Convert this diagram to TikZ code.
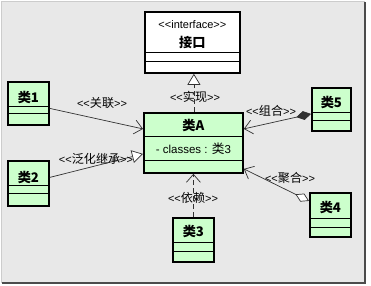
\documentclass[tikz,border=0pt]{standalone}
\usepackage{fontspec}
\setmainfont{Liberation Sans}
\newfontfamily\cjk[Scale=1.1]{Noto Sans CJK SC}
\usetikzlibrary{arrows.meta,calc}
\newcommand\stL{<\kern0pt<}
\newcommand\stR{>\kern0pt>}
\definecolor{clsgreen}{RGB}{204,255,204}
\definecolor{bggray}{RGB}{232,232,232}
\definecolor{linegray}{RGB}{50,50,50}
\begin{document}
\begin{tikzpicture}[x=1pt,y=-1pt,
  cls/.style={draw=black, line width=1.8pt, fill=clsgreen, inner sep=0pt, anchor=north west},
  div/.style={draw=black, line width=0.8pt},
  conn/.style={draw=linegray, line width=0.7pt},
  dsh/.style={dash pattern=on 5pt off 3pt},
  lbl/.style={font=\fontsize{11}{12}\selectfont, inner sep=0pt, text=black},
  ttl/.style={font=\fontsize{12}{13}\selectfont\bfseries, inner sep=0pt},
  barb/.tip={Straight Barb[length=8pt,width=14pt,line width=0.7pt]},
  tri/.tip={Triangle[open,fill=white,length=11pt,width=13pt,line width=0.7pt]},
  dia/.tip={Diamond[length=15pt,width=9pt,line width=0.7pt]},
  odia/.tip={Diamond[open,fill=white,length=15pt,width=9pt,line width=0.7pt]}]
\useasboundingbox (0,0) rectangle (371,285);
\fill[white] (0,0) rectangle (371,285);
\fill[bggray] (1,1) rectangle (365,283);
\draw[gray!40, line width=0.6pt] (1,283) -- (1,1) -- (365,1);
\draw[black!70, line width=2pt] (365,2) -- (365,283) -- (2,283);

% interface
\node[cls, fill=white, minimum width=95pt, minimum height=61pt] (I) at (144,11) {};
\draw[div] ($(I.north west)+(0,41)$) -- ($(I.north east)+(0,41)$);
\draw[div] ($(I.north west)+(0,50)$) -- ($(I.north east)+(0,50)$);
\node[lbl] (Ist) at ($(I.north)+(0,14)$) {\stL interface\stR};
\node[ttl] (It) at ($(I.north)+(0,31)$) {\cjk\bfseries 接口};

% class A
\node[cls, minimum width=99pt, minimum height=60pt] (A) at (143,112) {};
\draw[div] ($(A.north west)+(0,24)$) -- ($(A.north east)+(0,24)$);
\draw[div] ($(A.north west)+(0,48)$) -- ($(A.north east)+(0,48)$);
\node[ttl] (At) at ($(A.north)+(0,13)$) {\cjk\bfseries 类A};
\node[lbl, font=\fontsize{11.5}{13}\selectfont] (Aa) at ($(A.north)+(0,37)$) {- classes : {\cjk 类}3};

% small classes
\node[cls, minimum width=41pt, minimum height=43pt] (C1) at (7,81) {};
\node[cls, minimum width=41pt, minimum height=45pt] (C2) at (7,160) {};
\node[cls, minimum width=41pt, minimum height=44pt] (C3) at (172,217) {};
\node[cls, minimum width=41pt, minimum height=44pt] (C4) at (309,192) {};
\node[cls, minimum width=39pt, minimum height=43pt] (C5) at (311,87) {};
\foreach \n/\a/\b in {C1/25/32, C2/25/33, C3/25/34, C4/26/35, C5/25/33}{
  \draw[div] ($(\n.north west)+(0,\a)$) -- ($(\n.north east)+(0,\a)$);
  \draw[div] ($(\n.north west)+(0,\b)$) -- ($(\n.north east)+(0,\b)$);
}
\node[ttl] (C1t) at ($(C1.north)+(0,16)$) {\cjk\bfseries 类1};
\node[ttl] (C2t) at ($(C2.north)+(0,17)$) {\cjk\bfseries 类2};
\node[ttl] (C3t) at ($(C3.north)+(0,14)$) {\cjk\bfseries 类3};
\node[ttl] (C4t) at ($(C4.north)+(0,15)$) {\cjk\bfseries 类4};
\node[ttl] (C5t) at ($(C5.north)+(0,15)$) {\cjk\bfseries 类5};

% connectors
\draw[conn, -barb] ($(C1.east)+(0,5)$) -- ($(A.west)+(0,-14)$);
\draw[conn, -tri] ($(C2.east)+(0,-6)$) -- ($(A.west)+(0,11)$);
\draw[conn, dsh, -tri] ($(A.north)+(0.5,0)$) -- ($(A.north |- I.south)+(0.5,0)$);
\draw[conn, dsh, -barb] (C3.north) -- (A.south);
\draw[conn, dia-barb] ($(C5.west)+(0,4.5)$) -- ($(A.east)+(0,-14)$);
\draw[conn, odia-barb] ($(C4.west)+(0,-14)$) -- ($(A.east)+(0,26)$);

% labels
\node[lbl] (L1) at (102,103) {\stL{\cjk 关联}\stR};
\node[lbl] (L2) at (96,159) {\stL{\cjk 泛化继承}\stR};
\node[lbl] (L3) at (195,97) {\stL{\cjk 实现}\stR};
\node[lbl] (L4) at (193,198) {\stL{\cjk 依赖}\stR};
\node[lbl] (L5) at (271,111) {\stL{\cjk 组合}\stR};
\node[lbl] (L6) at (290,178) {\stL{\cjk 聚合}\stR};
\end{tikzpicture}
\end{document}
